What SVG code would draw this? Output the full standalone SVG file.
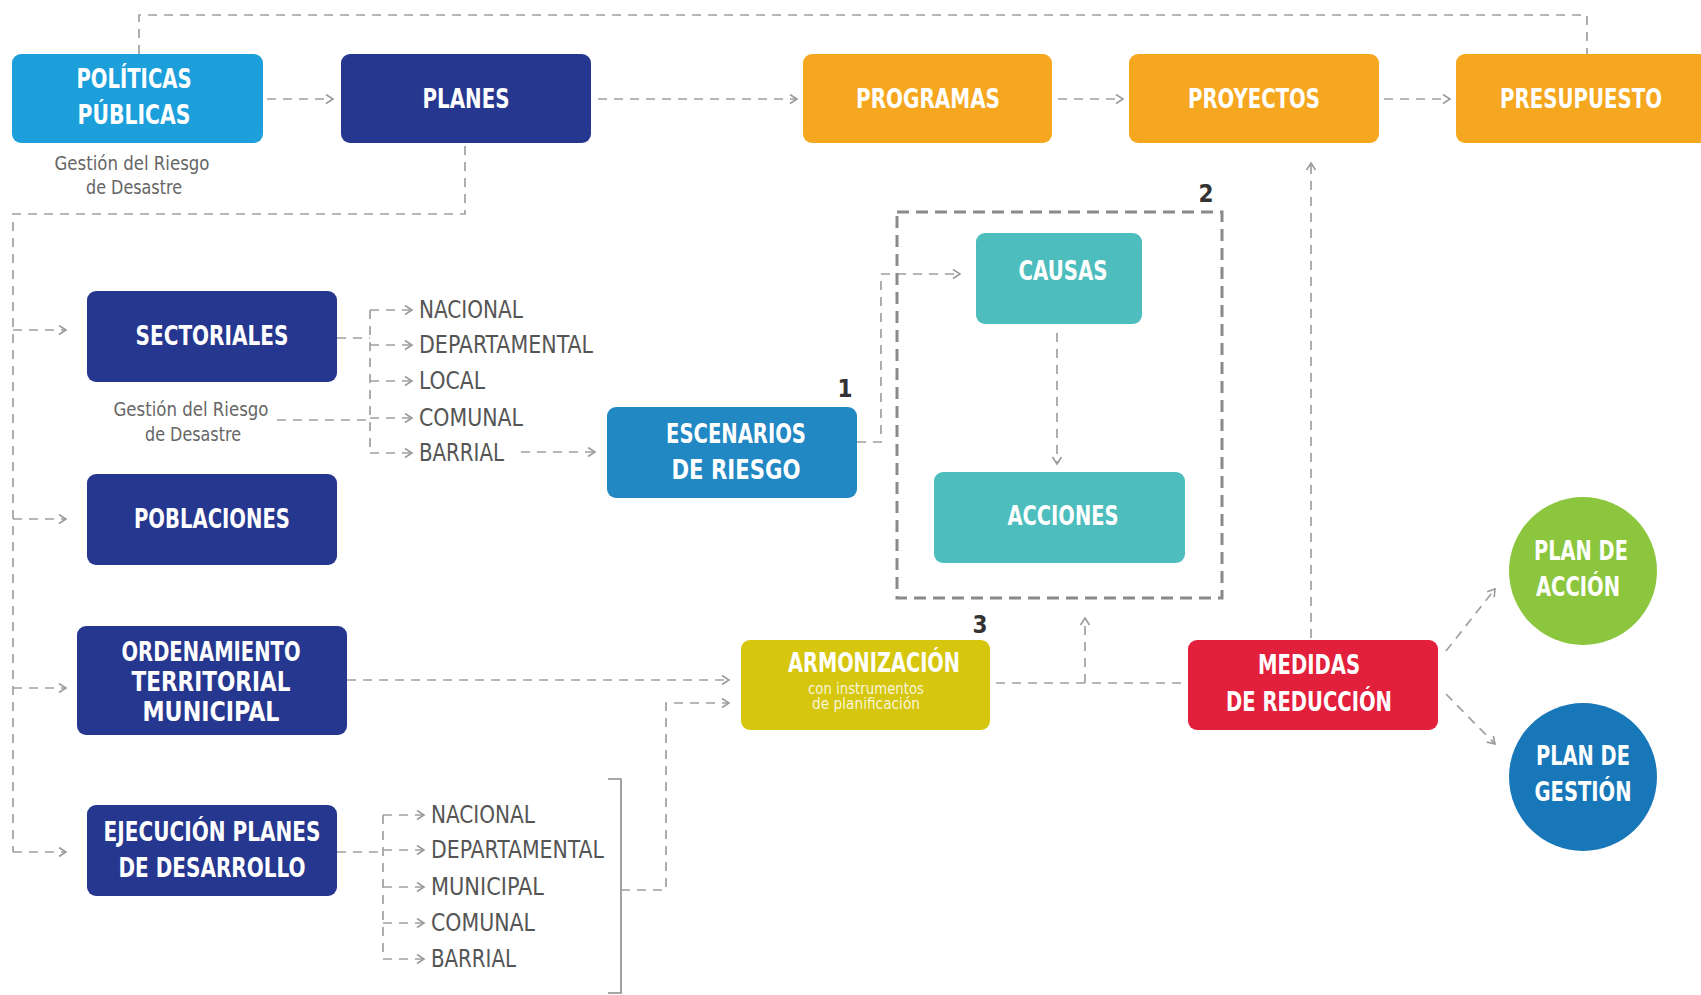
<svg xmlns="http://www.w3.org/2000/svg" width="1701" height="995" viewBox="0 0 1701 995">
<defs>
<marker id="ah" markerUnits="userSpaceOnUse" markerWidth="12" markerHeight="12" refX="8" refY="5" orient="auto" viewBox="0 0 12 12">
<path d="M1,0.5 L8,5 L1,9.5" fill="none" stroke="#9a9a9a" stroke-width="1.6"/>
</marker>
<style>
.c{fill:none;stroke:#a0a0a0;stroke-width:1.7;stroke-dasharray:9 7}
.box{stroke:none}
.lb{font-family:'Liberation Sans Narrow','DejaVu Sans Condensed','Liberation Sans',sans-serif;font-stretch:condensed;font-weight:bold;font-size:26px;fill:#fff;text-anchor:middle}
.gl{font-family:'Liberation Sans Narrow','DejaVu Sans Condensed','Liberation Sans',sans-serif;font-stretch:condensed;font-size:24px;fill:#555}
.sub{font-family:'Liberation Sans Narrow','DejaVu Sans Condensed','Liberation Sans',sans-serif;font-stretch:condensed;font-size:20px;fill:#666;text-anchor:middle}
.sm{font-family:'Liberation Sans Narrow','DejaVu Sans Condensed','Liberation Sans',sans-serif;font-stretch:condensed;font-size:15px;fill:#fff;fill-opacity:0.85;text-anchor:middle}
.num{font-family:'Liberation Sans Narrow','DejaVu Sans Condensed','Liberation Sans',sans-serif;font-stretch:condensed;font-weight:bold;font-size:24px;fill:#333;text-anchor:middle}
</style>
</defs>
<rect width="1701" height="995" fill="#ffffff"/>

<g id="connectors">
<path class="c" d="M139,54 V15 H1587 V54"/>
<path class="c" d="M267,99 H333" marker-end="url(#ah)"/>
<path class="c" d="M598,99 H797" marker-end="url(#ah)"/>
<path class="c" d="M1058,99 H1123" marker-end="url(#ah)"/>
<path class="c" d="M1384,99 H1450" marker-end="url(#ah)"/>
<path class="c" d="M465,146 V214 H13 V852"/>
<path class="c" d="M13,330 H66" marker-end="url(#ah)"/>
<path class="c" d="M13,519 H66" marker-end="url(#ah)"/>
<path class="c" d="M13,688 H66" marker-end="url(#ah)"/>
<path class="c" d="M13,852 H66" marker-end="url(#ah)"/>
<path class="c" d="M337,338 H370"/>
<path class="c" d="M370,310 V453"/>
<path class="c" d="M370,310 H412" marker-end="url(#ah)"/>
<path class="c" d="M370,345 H412" marker-end="url(#ah)"/>
<path class="c" d="M370,381 H412" marker-end="url(#ah)"/>
<path class="c" d="M370,418 H412" marker-end="url(#ah)"/>
<path class="c" d="M370,453 H412" marker-end="url(#ah)"/>
<path class="c" d="M277,420 H370"/>
<path class="c" d="M521,452 H595" marker-end="url(#ah)"/>
<path class="c" d="M857,442 H881 V274 H960" marker-end="url(#ah)"/>
<path class="c" d="M1057,333 V464" marker-end="url(#ah)"/>
<rect x="897" y="212" width="325" height="386" fill="none" stroke="#8a8a8a" stroke-width="3" stroke-dasharray="12 7"/>
<path class="c" d="M347,680 H729" marker-end="url(#ah)"/>
<path class="c" d="M337,852 H383"/>
<path class="c" d="M383,815 V959"/>
<path class="c" d="M383,815 H424" marker-end="url(#ah)"/>
<path class="c" d="M383,850 H424" marker-end="url(#ah)"/>
<path class="c" d="M383,887 H424" marker-end="url(#ah)"/>
<path class="c" d="M383,923 H424" marker-end="url(#ah)"/>
<path class="c" d="M383,959 H424" marker-end="url(#ah)"/>
<path d="M608,779 H621 V993 H608" fill="none" stroke="#8a8a8a" stroke-width="1.6"/>
<path class="c" d="M621,890 H666 V703 H729" marker-end="url(#ah)"/>
<path class="c" d="M996,683 H1186"/>
<path class="c" d="M1085,683 V618" marker-end="url(#ah)"/>
<path class="c" d="M1311,638 V163" marker-end="url(#ah)"/>
<path class="c" d="M1446,651 L1495,589" marker-end="url(#ah)"/>
<path class="c" d="M1446,694 L1495,744" marker-end="url(#ah)"/>
</g>

<g id="politicas">
<rect class="box" x="12" y="54" width="251" height="89" rx="9" fill="#1d9fdb"/>
<text class="lb" x="134" y="88" textLength="115" lengthAdjust="spacingAndGlyphs">POLÍTICAS</text>
<text class="lb" x="134" y="124" textLength="113" lengthAdjust="spacingAndGlyphs">PÚBLICAS</text>
<text class="sub" x="132" y="170" textLength="155" lengthAdjust="spacingAndGlyphs">Gestión del Riesgo</text>
<text class="sub" x="134" y="194" textLength="96" lengthAdjust="spacingAndGlyphs">de Desastre</text>
</g>
<g id="planes">
<rect class="box" x="341" y="54" width="250" height="89" rx="9" fill="#26378f"/>
<text class="lb" x="466" y="108" textLength="87" lengthAdjust="spacingAndGlyphs">PLANES</text>
</g>
<g id="programas">
<rect class="box" x="803" y="54" width="249" height="89" rx="9" fill="#f5a81f"/>
<text class="lb" x="928" y="108" textLength="144" lengthAdjust="spacingAndGlyphs">PROGRAMAS</text>
</g>
<g id="proyectos">
<rect class="box" x="1129" y="54" width="250" height="89" rx="9" fill="#f5a81f"/>
<text class="lb" x="1254" y="108" textLength="132" lengthAdjust="spacingAndGlyphs">PROYECTOS</text>
</g>
<g id="presupuesto">
<rect class="box" x="1456" y="54" width="258" height="89" rx="9" fill="#f5a81f"/>
<text class="lb" x="1581" y="108" textLength="162" lengthAdjust="spacingAndGlyphs">PRESUPUESTO</text>
</g>

<g id="sectoriales">
<rect class="box" x="87" y="291" width="250" height="91" rx="9" fill="#26378f"/>
<text class="lb" x="212" y="345" textLength="153" lengthAdjust="spacingAndGlyphs">SECTORIALES</text>
<text class="sub" x="191" y="416" textLength="155" lengthAdjust="spacingAndGlyphs">Gestión del Riesgo</text>
<text class="sub" x="193" y="441" textLength="96" lengthAdjust="spacingAndGlyphs">de Desastre</text>
</g>
<g id="sectoriales-niveles">
<text class="gl" x="419" y="318" textLength="104" lengthAdjust="spacingAndGlyphs">NACIONAL</text>
<text class="gl" x="419" y="353" textLength="174" lengthAdjust="spacingAndGlyphs">DEPARTAMENTAL</text>
<text class="gl" x="419" y="389" textLength="66" lengthAdjust="spacingAndGlyphs">LOCAL</text>
<text class="gl" x="419" y="426" textLength="104" lengthAdjust="spacingAndGlyphs">COMUNAL</text>
<text class="gl" x="419" y="461" textLength="85" lengthAdjust="spacingAndGlyphs">BARRIAL</text>
</g>
<g id="poblaciones">
<rect class="box" x="87" y="474" width="250" height="91" rx="9" fill="#26378f"/>
<text class="lb" x="212" y="528" textLength="156" lengthAdjust="spacingAndGlyphs">POBLACIONES</text>
</g>
<g id="ordenamiento">
<rect class="box" x="77" y="626" width="270" height="109" rx="9" fill="#26378f"/>
<text class="lb" x="211" y="661" textLength="179" lengthAdjust="spacingAndGlyphs">ORDENAMIENTO</text>
<text class="lb" x="211" y="691" textLength="159" lengthAdjust="spacingAndGlyphs">TERRITORIAL</text>
<text class="lb" x="211" y="721" textLength="137" lengthAdjust="spacingAndGlyphs">MUNICIPAL</text>
</g>
<g id="ejecucion">
<rect class="box" x="87" y="805" width="250" height="91" rx="9" fill="#26378f"/>
<text class="lb" x="212" y="841" textLength="217" lengthAdjust="spacingAndGlyphs">EJECUCIÓN PLANES</text>
<text class="lb" x="212" y="877" textLength="187" lengthAdjust="spacingAndGlyphs">DE DESARROLLO</text>
</g>
<g id="ejecucion-niveles">
<text class="gl" x="431" y="823" textLength="104" lengthAdjust="spacingAndGlyphs">NACIONAL</text>
<text class="gl" x="431" y="858" textLength="173" lengthAdjust="spacingAndGlyphs">DEPARTAMENTAL</text>
<text class="gl" x="431" y="895" textLength="113" lengthAdjust="spacingAndGlyphs">MUNICIPAL</text>
<text class="gl" x="431" y="931" textLength="104" lengthAdjust="spacingAndGlyphs">COMUNAL</text>
<text class="gl" x="431" y="967" textLength="85" lengthAdjust="spacingAndGlyphs">BARRIAL</text>
</g>

<g id="escenarios">
<rect class="box" x="607" y="407" width="250" height="91" rx="9" fill="#2288c4"/>
<text class="lb" x="736" y="443" textLength="140" lengthAdjust="spacingAndGlyphs">ESCENARIOS</text>
<text class="lb" x="736" y="479" textLength="129" lengthAdjust="spacingAndGlyphs">DE RIESGO</text>
<text class="num" x="845" y="397">1</text>
</g>
<g id="grupo2">
<text class="num" x="1206" y="202">2</text>
</g>
<g id="causas">
<rect class="box" x="976" y="233" width="166" height="91" rx="9" fill="#4dbdbd"/>
<text class="lb" x="1063" y="280" textLength="89" lengthAdjust="spacingAndGlyphs">CAUSAS</text>
</g>
<g id="acciones">
<rect class="box" x="934" y="472" width="251" height="91" rx="9" fill="#4dbdbd"/>
<text class="lb" x="1063" y="525" textLength="111" lengthAdjust="spacingAndGlyphs">ACCIONES</text>
</g>
<g id="armonizacion">
<rect class="box" x="741" y="640" width="249" height="90" rx="9" fill="#d6c60e"/>
<text class="lb" x="874" y="672" textLength="172" lengthAdjust="spacingAndGlyphs">ARMONIZACIÓN</text>
<text class="sm" x="866" y="694" textLength="116" lengthAdjust="spacingAndGlyphs">con instrumentos</text>
<text class="sm" x="866" y="709" textLength="108" lengthAdjust="spacingAndGlyphs">de planificación</text>
<text class="num" x="980" y="633">3</text>
</g>
<g id="medidas">
<rect class="box" x="1188" y="640" width="250" height="90" rx="9" fill="#e2203b"/>
<text class="lb" x="1309" y="674" textLength="102" lengthAdjust="spacingAndGlyphs">MEDIDAS</text>
<text class="lb" x="1309" y="711" textLength="166" lengthAdjust="spacingAndGlyphs">DE REDUCCIÓN</text>
</g>
<g id="plan-accion">
<circle cx="1583" cy="571" r="74" fill="#8cc63e"/>
<text class="lb" x="1581" y="560" textLength="94" lengthAdjust="spacingAndGlyphs">PLAN DE</text>
<text class="lb" x="1578" y="596" textLength="84" lengthAdjust="spacingAndGlyphs">ACCIÓN</text>
</g>
<g id="plan-gestion">
<circle cx="1583" cy="777" r="74" fill="#1877b8"/>
<text class="lb" x="1583" y="765" textLength="94" lengthAdjust="spacingAndGlyphs">PLAN DE</text>
<text class="lb" x="1583" y="801" textLength="97" lengthAdjust="spacingAndGlyphs">GESTIÓN</text>
</g>
</svg>
